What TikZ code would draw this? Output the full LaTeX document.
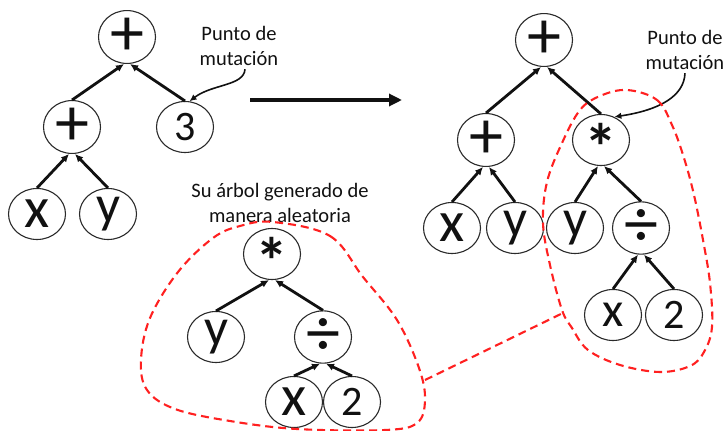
\documentclass[tikz,border=0pt]{standalone}
\usepackage{fontspec}
\setmainfont{Carlito}
\usepackage{tikz}
\usetikzlibrary{arrows.meta,shapes.geometric}
\definecolor{ink}{HTML}{111111}
\definecolor{rim}{HTML}{2A2A2A}
\definecolor{cutred}{HTML}{FF2020}
\newcommand\startimes{\smash{\raisebox{-0.46em}{\bfseries *}}}
\tikzset{
  tnode/.style={ellipse, draw=rim, line width=1.1pt, minimum width=57pt, minimum height=51pt,
                inner sep=0pt, text=ink, font=\fontsize{58}{58}\selectfont},
  opnode/.style={tnode, font=\fontsize{68}{68}\selectfont},
  starnode/.style={tnode, font=\fontsize{66}{66}\selectfont},
  ynode/.style={tnode, font=\fontsize{53}{53}\selectfont},
  numnode/.style={tnode, font=\fontsize{42}{42}\selectfont},
  smallx/.style={tnode, font=\fontsize{49}{49}\selectfont},
  note/.style={align=center, text=ink, font=\fontsize{20.5}{25}\selectfont},
  edge/.style={-{Latex[length=8pt,width=7.5pt]}, draw=ink, line width=2.8pt},
  callout/.style={-{Latex[length=7pt,width=6.5pt]}, draw=ink, line width=1.6pt},
  bigarrow/.style={-{Triangle[length=13pt,width=12pt]}, draw=ink, line width=3.2pt},
  cut/.style={draw=cutred, line width=2.1pt, dash pattern=on 8pt off 5pt}
}
\begin{document}
\begin{tikzpicture}[x=1pt,y=-1pt]
  \useasboundingbox (0,0) rectangle (723,431);

  % original tree
  \node[opnode] (lroot) at (127,37) {+};
  \node[opnode] (lplus) at (72,127) {+};
  \node[numnode] (lthree) at (185,127) {3};
  \node[tnode] (lx) at (37,214) {x};
  \node[ynode] (ly) at (108,214) {y};

  % random subtree
  \node[starnode] (mstar) at (272,254) {\startimes};
  \node[ynode] (my) at (216,337) {y};
  \node[opnode] (mdiv) at (323,337) {÷};
  \node[tnode] (mx) at (294,402) {x};
  \node[numnode] (mtwo) at (352,402) {2};

  % resulting tree
  \node[opnode] (rroot) at (544,40) {+};
  \node[opnode] (rplus) at (486,140) {+};
  \node[starnode] (rstar) at (601,140) {\startimes};
  \node[tnode] (rx) at (452,228) {x};
  \node[ynode] (ry) at (515,228) {y};
  \node[ynode] (ry2) at (575,228) {y};
  \node[opnode] (rdiv) at (641,228) {÷};
  \node[smallx] (rx2) at (613,315) {x};
  \node[numnode] (rtwo) at (674,315) {2};

  \foreach \c/\p/\s in {lplus/lroot/-3, lthree/lroot/3, lx/lplus/-3, ly/lplus/3,
                        my/mstar/-3, mdiv/mstar/3, mx/mdiv/-3, mtwo/mdiv/3,
                        rplus/rroot/-3, rstar/rroot/3, rx/rplus/-3, ry/rplus/3,
                        ry2/rstar/-3, rdiv/rstar/3, rx2/rdiv/-3, rtwo/rdiv/3}
    \draw[edge] (\c.north) -- ([xshift=\s pt]\p.south);

  % labels
  \node[note] (lmut) at (239,46) {Punto de\\mutación};
  \node[note] (rmut) at (685,50) {Punto de\\mutación};
  \node[note] (rand) at (280,203) {Su árbol generado de\\manera aleatoria};
  \draw[callout] ([xshift=6pt]lmut.south) .. controls (244,86) and (212,84) .. (lthree.80);
  \draw[callout] (rmut.south) .. controls (684,96) and (660,110) .. (rstar.60);

  \coordinate (from) at (250,100);
  \coordinate (to) at (402,100);
  \draw[bigarrow] (from) -- (to);

  % cut-out regions
  \draw[cut] plot[smooth cycle, tension=0.6] coordinates {
    (273,222) (330,236) (363,277) (397,320) (419,368) (425,400) (417,423)
    (385,430) (297,429) (230,421) (175,409) (147,390) (141,360) (150,318)
    (178,272) (213,238) (240,226)};
  \draw[cut] plot[smooth cycle, tension=0.6] coordinates {
    (627,90) (657,100) (672,125) (684,158) (694,195) (703,240) (710,283)
    (712,327) (704,352) (690,366) (660,372) (620,365) (588,350) (572,328)
    (562,310) (550,265) (543,223) (547,182) (562,143) (580,110) (600,96)};
  \coordinate (mlink) at (425,380);
  \coordinate (rlink) at (565,312);
  \draw[cut] (mlink) -- (rlink);
\end{tikzpicture}
\end{document}
